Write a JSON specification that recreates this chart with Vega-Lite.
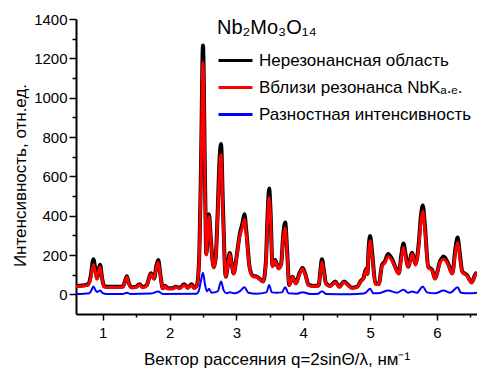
{
  "$schema": "https://vega.github.io/schema/vega-lite/v6.json",
  "width": 401,
  "height": 295,
  "autosize": {"type": "none"},
  "padding": {"left": 76, "top": 19, "right": 0, "bottom": 62},
  "background": "white",
  "config": {
    "font": "Liberation Sans",
    "view": {"stroke": null},
    "axis": {
      "domainColor": "black",
      "domainWidth": 2,
      "tickColor": "black",
      "tickWidth": 1.5,
      "labelColor": "black",
      "titleColor": "black",
      "labelFontSize": 15,
      "titleFontSize": 17,
      "titleFontWeight": "normal",
      "grid": false
    },
    "legend": {
      "labelFontSize": 17,
      "labelColor": "black",
      "titleColor": "black",
      "labelLimit": 400
    }
  },
  "datasets": {
    "nonres": [
      {"q": 0.6, "I": 43}, {"q": 0.7, "I": 45}, {"q": 0.78, "I": 51}, {"q": 0.82, "I": 92},
      {"q": 0.86, "I": 179}, {"q": 0.89, "I": 125}, {"q": 0.915, "I": 81}, {"q": 0.94, "I": 128},
      {"q": 0.96, "I": 150}, {"q": 0.99, "I": 84}, {"q": 1.02, "I": 41}, {"q": 1.1, "I": 38},
      {"q": 1.2, "I": 38}, {"q": 1.3, "I": 40}, {"q": 1.33, "I": 63}, {"q": 1.36, "I": 92},
      {"q": 1.39, "I": 58}, {"q": 1.43, "I": 36}, {"q": 1.5, "I": 39}, {"q": 1.55, "I": 51},
      {"q": 1.6, "I": 37}, {"q": 1.66, "I": 48}, {"q": 1.72, "I": 107}, {"q": 1.77, "I": 81},
      {"q": 1.8, "I": 140}, {"q": 1.83, "I": 174}, {"q": 1.86, "I": 106}, {"q": 1.9, "I": 31},
      {"q": 1.93, "I": 44}, {"q": 1.97, "I": 31}, {"q": 2.05, "I": 31}, {"q": 2.09, "I": 39},
      {"q": 2.15, "I": 33}, {"q": 2.22, "I": 51}, {"q": 2.27, "I": 34}, {"q": 2.33, "I": 51},
      {"q": 2.37, "I": 33}, {"q": 2.41, "I": 48}, {"q": 2.44, "I": 160}, {"q": 2.47, "I": 640},
      {"q": 2.5, "I": 1265}, {"q": 2.53, "I": 590}, {"q": 2.55, "I": 205}, {"q": 2.57, "I": 310},
      {"q": 2.59, "I": 407}, {"q": 2.62, "I": 268}, {"q": 2.66, "I": 138}, {"q": 2.69, "I": 185},
      {"q": 2.72, "I": 420}, {"q": 2.75, "I": 700}, {"q": 2.77, "I": 765}, {"q": 2.8, "I": 430},
      {"q": 2.84, "I": 90}, {"q": 2.87, "I": 145}, {"q": 2.9, "I": 210}, {"q": 2.93, "I": 155},
      {"q": 2.96, "I": 107}, {"q": 3.0, "I": 185}, {"q": 3.05, "I": 305}, {"q": 3.09, "I": 360},
      {"q": 3.12, "I": 407}, {"q": 3.15, "I": 315}, {"q": 3.2, "I": 132}, {"q": 3.25, "I": 93},
      {"q": 3.3, "I": 91}, {"q": 3.35, "I": 78}, {"q": 3.4, "I": 66}, {"q": 3.44, "I": 160},
      {"q": 3.47, "I": 430}, {"q": 3.49, "I": 538}, {"q": 3.51, "I": 430}, {"q": 3.54, "I": 145},
      {"q": 3.58, "I": 175}, {"q": 3.63, "I": 133}, {"q": 3.67, "I": 155}, {"q": 3.7, "I": 300},
      {"q": 3.73, "I": 365}, {"q": 3.76, "I": 215}, {"q": 3.79, "I": 48}, {"q": 3.84, "I": 90},
      {"q": 3.89, "I": 56}, {"q": 3.94, "I": 104}, {"q": 3.99, "I": 134}, {"q": 4.03, "I": 104},
      {"q": 4.08, "I": 48}, {"q": 4.15, "I": 43}, {"q": 4.23, "I": 45}, {"q": 4.26, "I": 130},
      {"q": 4.28, "I": 179}, {"q": 4.31, "I": 118}, {"q": 4.34, "I": 56}, {"q": 4.4, "I": 43},
      {"q": 4.48, "I": 65}, {"q": 4.54, "I": 39}, {"q": 4.61, "I": 65}, {"q": 4.66, "I": 52},
      {"q": 4.73, "I": 34}, {"q": 4.81, "I": 39}, {"q": 4.86, "I": 68}, {"q": 4.9, "I": 81},
      {"q": 4.94, "I": 130}, {"q": 4.96, "I": 104}, {"q": 4.98, "I": 240}, {"q": 5.0, "I": 297},
      {"q": 5.03, "I": 215}, {"q": 5.08, "I": 56}, {"q": 5.13, "I": 52}, {"q": 5.18, "I": 150},
      {"q": 5.22, "I": 166}, {"q": 5.27, "I": 205}, {"q": 5.33, "I": 178}, {"q": 5.39, "I": 129},
      {"q": 5.43, "I": 107}, {"q": 5.47, "I": 205}, {"q": 5.5, "I": 258}, {"q": 5.53, "I": 205},
      {"q": 5.57, "I": 141}, {"q": 5.63, "I": 212}, {"q": 5.68, "I": 153}, {"q": 5.73, "I": 265},
      {"q": 5.76, "I": 395}, {"q": 5.79, "I": 452}, {"q": 5.82, "I": 350}, {"q": 5.87, "I": 141},
      {"q": 5.93, "I": 124}, {"q": 5.97, "I": 81}, {"q": 6.05, "I": 170}, {"q": 6.1, "I": 193},
      {"q": 6.17, "I": 155}, {"q": 6.23, "I": 107}, {"q": 6.28, "I": 240}, {"q": 6.31, "I": 289},
      {"q": 6.34, "I": 215}, {"q": 6.38, "I": 116}, {"q": 6.45, "I": 98}, {"q": 6.52, "I": 61},
      {"q": 6.57, "I": 98}, {"q": 6.6, "I": 113}
    ],
    "nearres": [
      {"q": 0.6, "I": 40}, {"q": 0.7, "I": 42}, {"q": 0.78, "I": 48}, {"q": 0.82, "I": 80},
      {"q": 0.86, "I": 150}, {"q": 0.89, "I": 110}, {"q": 0.915, "I": 78}, {"q": 0.94, "I": 120},
      {"q": 0.96, "I": 139}, {"q": 0.99, "I": 80}, {"q": 1.02, "I": 38}, {"q": 1.1, "I": 35},
      {"q": 1.2, "I": 35}, {"q": 1.3, "I": 37}, {"q": 1.33, "I": 60}, {"q": 1.36, "I": 88},
      {"q": 1.39, "I": 55}, {"q": 1.43, "I": 33}, {"q": 1.5, "I": 36}, {"q": 1.55, "I": 48},
      {"q": 1.6, "I": 34}, {"q": 1.66, "I": 45}, {"q": 1.72, "I": 103}, {"q": 1.77, "I": 78},
      {"q": 1.8, "I": 130}, {"q": 1.83, "I": 162}, {"q": 1.86, "I": 100}, {"q": 1.9, "I": 28},
      {"q": 1.93, "I": 41}, {"q": 1.97, "I": 28}, {"q": 2.05, "I": 28}, {"q": 2.09, "I": 36},
      {"q": 2.15, "I": 30}, {"q": 2.22, "I": 48}, {"q": 2.27, "I": 31}, {"q": 2.33, "I": 48},
      {"q": 2.37, "I": 30}, {"q": 2.41, "I": 45}, {"q": 2.44, "I": 150}, {"q": 2.47, "I": 600},
      {"q": 2.5, "I": 1180}, {"q": 2.53, "I": 550}, {"q": 2.55, "I": 200}, {"q": 2.57, "I": 300},
      {"q": 2.59, "I": 395}, {"q": 2.62, "I": 260}, {"q": 2.66, "I": 135}, {"q": 2.69, "I": 180},
      {"q": 2.72, "I": 400}, {"q": 2.75, "I": 650}, {"q": 2.77, "I": 710}, {"q": 2.8, "I": 400},
      {"q": 2.84, "I": 87}, {"q": 2.87, "I": 140}, {"q": 2.9, "I": 205}, {"q": 2.93, "I": 150},
      {"q": 2.96, "I": 104}, {"q": 3.0, "I": 180}, {"q": 3.05, "I": 297}, {"q": 3.09, "I": 340},
      {"q": 3.12, "I": 381}, {"q": 3.15, "I": 300}, {"q": 3.2, "I": 129}, {"q": 3.25, "I": 90},
      {"q": 3.3, "I": 88}, {"q": 3.35, "I": 75}, {"q": 3.4, "I": 63}, {"q": 3.44, "I": 150},
      {"q": 3.47, "I": 400}, {"q": 3.49, "I": 492}, {"q": 3.51, "I": 400}, {"q": 3.54, "I": 140},
      {"q": 3.58, "I": 170}, {"q": 3.63, "I": 130}, {"q": 3.67, "I": 150}, {"q": 3.7, "I": 280},
      {"q": 3.73, "I": 339}, {"q": 3.76, "I": 200}, {"q": 3.79, "I": 45}, {"q": 3.84, "I": 87},
      {"q": 3.89, "I": 53}, {"q": 3.94, "I": 100}, {"q": 3.99, "I": 129}, {"q": 4.03, "I": 100},
      {"q": 4.08, "I": 45}, {"q": 4.15, "I": 40}, {"q": 4.23, "I": 42}, {"q": 4.26, "I": 120},
      {"q": 4.28, "I": 163}, {"q": 4.31, "I": 110}, {"q": 4.34, "I": 53}, {"q": 4.4, "I": 40},
      {"q": 4.48, "I": 62}, {"q": 4.54, "I": 36}, {"q": 4.61, "I": 62}, {"q": 4.66, "I": 49},
      {"q": 4.73, "I": 31}, {"q": 4.81, "I": 36}, {"q": 4.86, "I": 65}, {"q": 4.9, "I": 78},
      {"q": 4.94, "I": 125}, {"q": 4.96, "I": 100}, {"q": 4.98, "I": 220}, {"q": 5.0, "I": 272},
      {"q": 5.03, "I": 200}, {"q": 5.08, "I": 53}, {"q": 5.13, "I": 49}, {"q": 5.18, "I": 145},
      {"q": 5.22, "I": 159}, {"q": 5.27, "I": 193}, {"q": 5.33, "I": 171}, {"q": 5.39, "I": 125},
      {"q": 5.43, "I": 104}, {"q": 5.47, "I": 190}, {"q": 5.5, "I": 238}, {"q": 5.53, "I": 190},
      {"q": 5.57, "I": 137}, {"q": 5.63, "I": 205}, {"q": 5.68, "I": 149}, {"q": 5.73, "I": 250},
      {"q": 5.76, "I": 370}, {"q": 5.79, "I": 423}, {"q": 5.82, "I": 330}, {"q": 5.87, "I": 137},
      {"q": 5.93, "I": 120}, {"q": 5.97, "I": 78}, {"q": 6.05, "I": 163}, {"q": 6.1, "I": 179},
      {"q": 6.17, "I": 149}, {"q": 6.23, "I": 104}, {"q": 6.28, "I": 220}, {"q": 6.31, "I": 264},
      {"q": 6.34, "I": 200}, {"q": 6.38, "I": 112}, {"q": 6.45, "I": 95}, {"q": 6.52, "I": 58},
      {"q": 6.57, "I": 95}, {"q": 6.6, "I": 110}
    ],
    "difference": [
      {"q": 0.6, "I": 2}, {"q": 0.8, "I": 6}, {"q": 0.83, "I": 20}, {"q": 0.86, "I": 40},
      {"q": 0.89, "I": 22}, {"q": 0.915, "I": 12}, {"q": 0.96, "I": 19}, {"q": 1.0, "I": 6},
      {"q": 1.05, "I": 2}, {"q": 1.3, "I": 2}, {"q": 1.36, "I": 8}, {"q": 1.42, "I": 2},
      {"q": 1.72, "I": 4}, {"q": 1.83, "I": 14}, {"q": 1.9, "I": 2}, {"q": 2.4, "I": 3},
      {"q": 2.44, "I": 20}, {"q": 2.47, "I": 70}, {"q": 2.5, "I": 110}, {"q": 2.53, "I": 50},
      {"q": 2.56, "I": 15}, {"q": 2.59, "I": 28}, {"q": 2.63, "I": 8}, {"q": 2.72, "I": 15},
      {"q": 2.77, "I": 65}, {"q": 2.81, "I": 20}, {"q": 2.85, "I": 5}, {"q": 2.9, "I": 10},
      {"q": 2.98, "I": 5}, {"q": 3.06, "I": 18}, {"q": 3.12, "I": 36}, {"q": 3.18, "I": 8},
      {"q": 3.3, "I": 3}, {"q": 3.45, "I": 10}, {"q": 3.49, "I": 48}, {"q": 3.53, "I": 10},
      {"q": 3.6, "I": 8}, {"q": 3.68, "I": 10}, {"q": 3.73, "I": 36}, {"q": 3.78, "I": 5},
      {"q": 3.9, "I": 3}, {"q": 3.99, "I": 11}, {"q": 4.1, "I": 2}, {"q": 4.22, "I": 3},
      {"q": 4.28, "I": 16}, {"q": 4.34, "I": 2}, {"q": 4.7, "I": 0}, {"q": 4.9, "I": 4},
      {"q": 4.94, "I": 10}, {"q": 5.0, "I": 28}, {"q": 5.05, "I": 5}, {"q": 5.15, "I": 7},
      {"q": 5.27, "I": 19}, {"q": 5.4, "I": 8}, {"q": 5.5, "I": 23}, {"q": 5.57, "I": 8},
      {"q": 5.63, "I": 15}, {"q": 5.7, "I": 8}, {"q": 5.79, "I": 40}, {"q": 5.85, "I": 10},
      {"q": 5.97, "I": 5}, {"q": 6.1, "I": 19}, {"q": 6.2, "I": 8}, {"q": 6.31, "I": 36},
      {"q": 6.36, "I": 8}, {"q": 6.5, "I": 5}, {"q": 6.6, "I": 8}
    ]
  },
  "encoding": {
    "x": {
      "field": "q",
      "type": "quantitative",
      "scale": {"domain": [0.6, 6.6], "nice": false, "zero": false},
      "axis": {
        "title": "Вектор рассеяния q=2sinΘ/λ, нм⁻¹",
        "values": [1, 1.5, 2, 2.5, 3, 3.5, 4, 4.5, 5, 5.5, 6, 6.5],
        "labelExpr": "datum.value % 1 == 0 ? format(datum.value, 'd') : ''",
        "tickSize": {"condition": {"test": "datum.value % 1 == 0", "value": 6}, "value": 3},
        "labelPadding": 5,
        "titlePadding": 11,
        "labelFlush": false
      }
    },
    "y": {
      "field": "I",
      "type": "quantitative",
      "scale": {"domain": [-100, 1400], "nice": false},
      "axis": {
        "title": "Интенсивность, отн.ед.",
        "titleY": 156,
        "titleAlign": "center",
        "values": [0, 100, 200, 300, 400, 500, 600, 700, 800, 900, 1000, 1100, 1200, 1300, 1400],
        "labelExpr": "datum.value % 200 == 0 ? format(datum.value, 'd') : ''",
        "tickSize": {"condition": {"test": "datum.value % 200 == 0", "value": 7}, "value": 4},
        "labelPadding": 2,
        "titlePadding": 4,
        "labelFlush": false
      }
    }
  },
  "layer": [
    {
      "data": {"name": "nonres"},
      "mark": {"type": "line", "strokeWidth": 4, "interpolate": "monotone"},
      "encoding": {
        "color": {
          "datum": "Нерезонансная область",
          "type": "nominal",
          "scale": {
            "domain": ["Нерезонансная область", "Вблизи резонанса NbKₐ.ₑ.", "Разностная интенсивность"],
            "range": ["#000000", "#ff0000", "#0000ff"]
          },
          "legend": {
            "title": "Nb₂Mo₃O₁₄",
            "titleFontSize": 20,
            "titleFontWeight": "normal",
            "titlePadding": 4,
            "orient": "none",
            "legendX": 141,
            "legendY": -1,
            "symbolType": "stroke",
            "symbolSize": 1156,
            "symbolStrokeWidth": 3,
            "labelOffset": 5,
            "rowPadding": -6,
            "labelFontSize": 17
          }
        }
      }
    },
    {
      "data": {"name": "nearres"},
      "mark": {"type": "line", "strokeWidth": 3, "interpolate": "monotone"},
      "encoding": {"color": {"datum": "Вблизи резонанса NbKₐ.ₑ.", "type": "nominal"}}
    },
    {
      "data": {"name": "difference"},
      "mark": {"type": "line", "strokeWidth": 2, "interpolate": "monotone"},
      "encoding": {"color": {"datum": "Разностная интенсивность", "type": "nominal"}}
    }
  ]
}
